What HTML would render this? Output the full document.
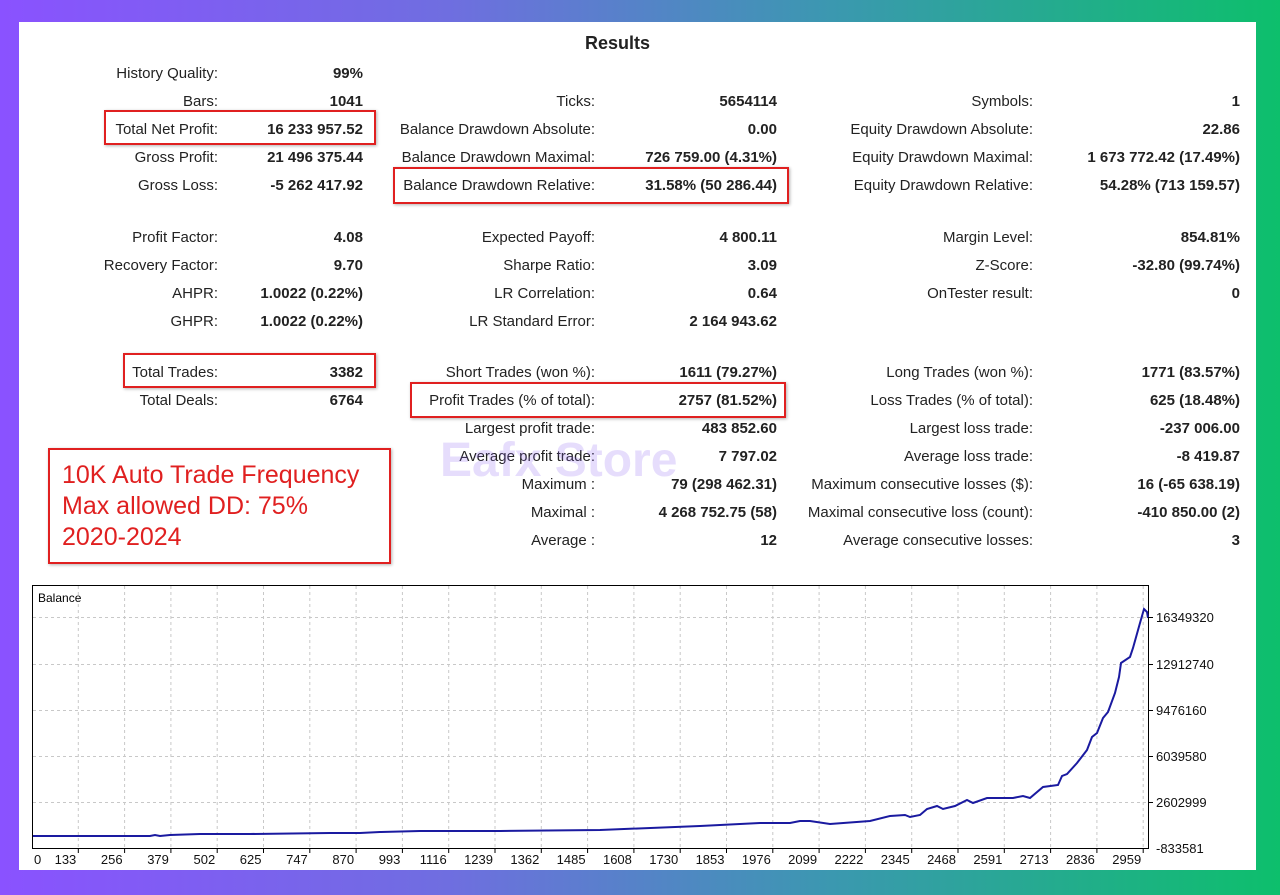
<!DOCTYPE html>
<html><head><meta charset="utf-8"><style>
body{margin:0;width:1280px;height:895px;overflow:hidden;background:linear-gradient(90deg,#8a52ff 0%,#6f6ee0 35%,#3b98b0 65%,#0dbf6c 100%);font-family:"Liberation Sans",Tahoma,sans-serif;}
#p{position:absolute;left:19px;top:22px;width:1237px;height:848px;background:#fff;}
.t{position:absolute;font-size:15px;color:#222;white-space:nowrap;line-height:18px}
.l{text-align:right}
.v{text-align:right;font-weight:bold}
.box{position:absolute;border:2px solid #e02020;box-shadow:1px 1px 3px rgba(0,0,0,.3)}
</style></head><body>
<div id="p"></div>
<div class="t" style="left:585px;top:34px;font-size:18px;font-weight:bold">Results</div>
<div id="rows"></div>
<div class="box" style="left:104px;top:110px;width:268px;height:31px"></div>
<div class="box" style="left:393px;top:167px;width:392px;height:33px"></div>
<div class="box" style="left:123px;top:353px;width:249px;height:31px"></div>
<div class="box" style="left:410px;top:382px;width:372px;height:32px"></div>
<div class="box" style="left:48px;top:448px;width:339px;height:112px"></div>
<div class="t" style="left:62px;top:460px;font-size:25px;line-height:31px;color:#e02020">10K Auto Trade Frequency<br>Max allowed DD: 75%<br>2020-2024</div>
<div class="t" style="left:440px;top:436px;font-size:48px;line-height:50px;font-weight:bold;color:rgba(140,100,240,.22)">Eafx Store</div>
<svg style="position:absolute;left:0;top:0" width="1280" height="895">
<g id="grid" stroke="#c8c8c8" stroke-dasharray="3,3" stroke-width="1"></g>
<rect x="32.5" y="585.5" width="1116" height="263" fill="none" stroke="#000"/>
<text x="38" y="602" font-size="12" font-family="Liberation Sans,sans-serif">Balance</text>
<polyline fill="none" stroke="#1a1aa0" stroke-width="2" points="33,836 150,836 155,835 160,836 170,835 200,834 250,834 330,833 360,833 380,832 420,831 500,831 600,830 700,826 760,823 790,823 800,821 810,821 830,824 870,821 890,816 905,815 910,817 920,815 927,809 937,806 943,809 955,806 967,800 973,803 987,798 997,798 1013,798 1023,796 1030,798 1043,787 1058,785 1062,776 1067,774 1077,763 1087,750 1092,737 1097,733 1103,718 1108,712 1115,693 1119,677 1121,663 1130,657 1133,648 1140,623 1144,609 1147,612 1148,618"/>
<g id="ax" font-size="13" font-family="Liberation Sans,sans-serif" fill="#111"></g>
</svg>
<script>
const R=[[72,"History Quality:","99%"],[100,"Bars:","1041","Ticks:","5654114","Symbols:","1"],
[128,"Total Net Profit:","16 233 957.52","Balance Drawdown Absolute:","0.00","Equity Drawdown Absolute:","22.86"],
[156,"Gross Profit:","21 496 375.44","Balance Drawdown Maximal:","726 759.00 (4.31%)","Equity Drawdown Maximal:","1 673 772.42 (17.49%)"],
[184,"Gross Loss:","-5 262 417.92","Balance Drawdown Relative:","31.58% (50 286.44)","Equity Drawdown Relative:","54.28% (713 159.57)"],
[236,"Profit Factor:","4.08","Expected Payoff:","4 800.11","Margin Level:","854.81%"],
[264,"Recovery Factor:","9.70","Sharpe Ratio:","3.09","Z-Score:","-32.80 (99.74%)"],
[292,"AHPR:","1.0022 (0.22%)","LR Correlation:","0.64","OnTester result:","0"],
[320,"GHPR:","1.0022 (0.22%)","LR Standard Error:","2 164 943.62"],
[371,"Total Trades:","3382","Short Trades (won %):","1611 (79.27%)","Long Trades (won %):","1771 (83.57%)"],
[399,"Total Deals:","6764","Profit Trades (% of total):","2757 (81.52%)","Loss Trades (% of total):","625 (18.48%)"],
[427,"","","Largest profit trade:","483 852.60","Largest loss trade:","-237 006.00"],
[455,"","","Average profit trade:","7 797.02","Average loss trade:","-8 419.87"],
[483,"","","Maximum :","79 (298 462.31)","Maximum consecutive losses ($):","16 (-65 638.19)"],
[511,"","","Maximal :","4 268 752.75 (58)","Maximal consecutive loss (count):","-410 850.00 (2)"],
[539,"","","Average :","12","Average consecutive losses:","3"]];
const X=[218,363,595,777,1033,1240];let h="";
R.forEach(r=>{for(let i=1;i<r.length;i++){if(!r[i])continue;const c=i%2?"l":"v";h+=`<div class="t ${c}" style="right:${1280-X[i-1]}px;top:${r[0]-7}px">${r[i]}</div>`;}});
document.getElementById("rows").innerHTML=h;
let g="",a="";const ys=[617,664,710,756,802];const lb=["16349320","12912740","9476160","6039580","2602999"];
ys.forEach((y,i)=>{g+=`<line x1="33" x2="1148" y1="${y}.5" y2="${y}.5"/>`;a+=`<line x1="1148" x2="1153" y1="${y}.5" y2="${y}.5" stroke="#000"/><text x="1156" y="${y+5}">${lb[i]}</text>`;});
a+=`<text x="1156" y="853">-833581</text>`;
const xl=[0,133,256,379,502,625,747,870,993,1116,1239,1362,1485,1608,1730,1853,1976,2099,2222,2345,2468,2591,2713,2836,2959];
xl.forEach((v,i)=>{const x=32+i*46.3;if(i>0){g+=`<line y1="586" y2="848" x1="${x.toFixed(1)}" x2="${x.toFixed(1)}"/>`;a+=`<line y1="848" y2="853" x1="${x}" x2="${x}" stroke="#000"/>`;a+=`<text x="${x-2}" y="864" text-anchor="end">${v}</text>`;}else{a+=`<text x="34" y="864">0</text>`;}});
document.getElementById("grid").innerHTML=g;document.getElementById("ax").innerHTML=a;
</script>
</body></html>
